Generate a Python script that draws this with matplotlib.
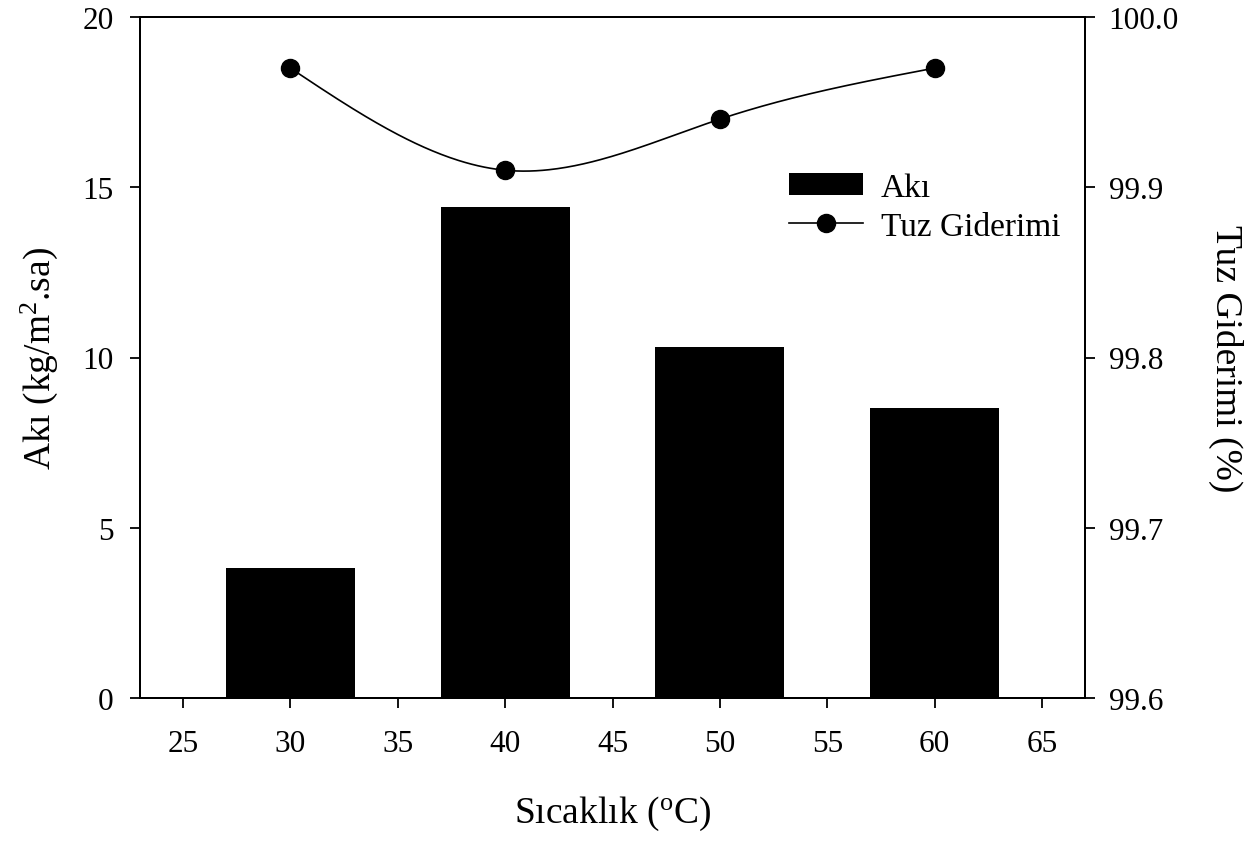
import numpy as np
import matplotlib
matplotlib.use('Agg')
import matplotlib.pyplot as plt

# data
temperature = [30, 40, 50, 60]
flux = [3.82, 14.41, 10.30, 8.51]
salt_rejection = [99.97, 99.91, 99.94, 99.97]

plt.rcParams['font.family'] = ['Liberation Serif', 'DejaVu Serif']
plt.rcParams['mathtext.fontset'] = 'custom'
plt.rcParams['mathtext.rm'] = 'Liberation Serif'
plt.rcParams['mathtext.it'] = 'Liberation Serif:italic'


def natural_spline(x, y, n=300):
    # natural cubic spline through the points, for the smooth line
    x = np.asarray(x, float)
    y = np.asarray(y, float)
    k = len(x)
    h = np.diff(x)
    A = np.zeros((k, k))
    b = np.zeros(k)
    A[0, 0] = A[-1, -1] = 1
    for i in range(1, k - 1):
        A[i, i - 1] = h[i - 1]
        A[i, i] = 2 * (h[i - 1] + h[i])
        A[i, i + 1] = h[i]
        b[i] = 6 * ((y[i + 1] - y[i]) / h[i] - (y[i] - y[i - 1]) / h[i - 1])
    M = np.linalg.solve(A, b)
    xs = np.linspace(x[0], x[-1], n)
    ys = np.empty_like(xs)
    for j, xv in enumerate(xs):
        i = min(np.searchsorted(x, xv, side='right') - 1, k - 2)
        t0 = x[i + 1] - xv
        t1 = xv - x[i]
        ys[j] = (M[i] * t0 ** 3 / (6 * h[i]) + M[i + 1] * t1 ** 3 / (6 * h[i])
                 + (y[i] / h[i] - M[i] * h[i] / 6) * t0
                 + (y[i + 1] / h[i] - M[i + 1] * h[i] / 6) * t1)
    return xs, ys


fig = plt.figure(figsize=(12.57, 8.45), dpi=100)
ax = fig.add_axes([140 / 1257, 146 / 845, 945 / 1257, 681 / 845])
ax2 = ax.twinx()

tick_fs = 22.5
legend_fs = 24
label_fs = 27

bars = ax.bar(temperature, flux, width=6, color='black', label='Akı')
ax.set_xlim(23, 67)
ax.set_ylim(0, 20)
ax.set_xticks([25, 30, 35, 40, 45, 50, 55, 60, 65])
ax.set_yticks([0, 5, 10, 15, 20])

xs, ys = natural_spline(temperature, salt_rejection)
ax2.plot(xs, ys, color='black', lw=1.2)
ax2.plot(temperature, salt_rejection, 'o', color='black', ms=13)
line_handle, = ax2.plot([], [], '-o', color='black', lw=1.2, ms=13, label='Tuz Giderimi')
ax2.set_ylim(99.6, 100.0)
ax2.set_yticks([99.6, 99.7, 99.8, 99.9, 100.0])
ax2.set_yticklabels(['99.6', '99.7', '99.8', '99.9', '100.0'])

for a in (ax, ax2):
    for s in a.spines.values():
        s.set_linewidth(1.4)

ax.tick_params(axis='x', direction='out', length=7, width=1.3, labelsize=tick_fs, pad=15, top=False)
ax.tick_params(axis='y', direction='out', length=7, width=1.3, labelsize=tick_fs, pad=12)
ax2.tick_params(axis='y', direction='out', length=7, width=1.3, labelsize=tick_fs, pad=10)

ax.set_xlabel('Sıcaklık ($\\mathrm{^{o}}$C)', fontsize=label_fs, labelpad=26)
ax.set_ylabel('Akı (kg/m$\\mathrm{^{2}}$.sa)', fontsize=label_fs, labelpad=16)
ax2.set_ylabel('Tuz Giderimi (%)', fontsize=label_fs, rotation=270, labelpad=46)

ax2.legend([bars, line_handle], ['Akı', 'Tuz Giderimi'], loc='upper left',
           bbox_to_anchor=(0.687, 0.772), frameon=False, fontsize=legend_fs,
           borderpad=0, borderaxespad=0, handlelength=2.2, handleheight=0.65,
           handletextpad=0.55, labelspacing=0.25)

fig.savefig('out.png', dpi=100)
